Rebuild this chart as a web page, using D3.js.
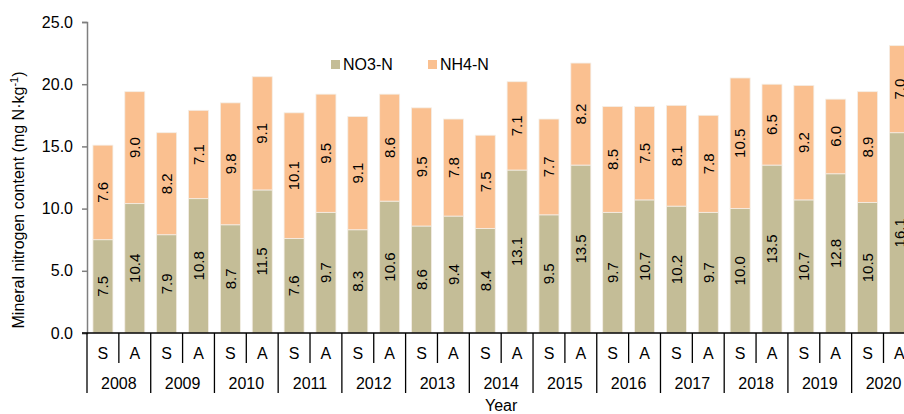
<!DOCTYPE html>
<html>
<head>
<meta charset="utf-8">
<script src="https://cdn.jsdelivr.net/npm/d3@7"></script>
<style>
  body { margin: 0; background: #fff; }
  svg { font-family: "Liberation Sans", Arial, sans-serif; }
</style>
</head>
<body>
<div id="chart"></div>
<script>
// data
var years = ["2008", "2009", "2010", "2011", "2012", "2013", "2014", "2015", "2016", "2017", "2018", "2019", "2020"];
var seasons = ["S", "A"];
var no3 = [7.5, 10.4, 7.9, 10.8, 8.7, 11.5, 7.6, 9.7, 8.3, 10.6, 8.6, 9.4, 8.4, 13.1, 9.5, 13.5, 9.7, 10.7, 10.2, 9.7, 10.0, 13.5, 10.7, 12.8, 10.5, 16.1];
var nh4 = [7.6, 9.0, 8.2, 7.1, 9.8, 9.1, 10.1, 9.5, 9.1, 8.6, 9.5, 7.8, 7.5, 7.1, 7.7, 8.2, 8.5, 7.5, 8.1, 7.8, 10.5, 6.5, 9.2, 6.0, 8.9, 7.0];
var yTicks = [0, 5, 10, 15, 20, 25];
var seriesNames = ["NO3-N", "NH4-N"];
var colors = ["#c4bd97", "#fac090"];

var width = 904, height = 414;
var margin = {top: 22, left: 87, bottom: 81};
var bandW = 31.86;

// one row per bar
var rows = [];
years.forEach(function (yr, i) {
    seasons.forEach(function (s, j) {
        var k = i * 2 + j;
        rows.push({key: yr + s, year: yr, season: s, "NO3-N": no3[k], "NH4-N": nh4[k]});
    });
});

var svg = d3.select("#chart").append("svg")
    .attr("width", width)
    .attr("height", height);

var x = d3.scaleBand()
    .domain(rows.map(function (d) { return d.key; }))
    .range([margin.left, margin.left + bandW * rows.length])
    .paddingInner(11.86 / 31.86)
    .paddingOuter(11.86 / 31.86 / 2);

var y = d3.scaleLinear()
    .domain([0, 25])
    .range([height - margin.bottom, margin.top]);

var stack = d3.stack().keys(seriesNames);
var layers = stack(rows);

var g = svg.append("g");

layers.forEach(function (layer, li) {
    var grp = g.append("g").attr("fill", colors[li]);
    grp.selectAll("rect")
        .data(layer)
        .enter().append("rect")
        .attr("x", function (d) { return x(d.data.key); })
        .attr("width", x.bandwidth())
        .attr("y", function (d) { return y(d[1]); })
        .attr("height", function (d) { return y(d[0]) - y(d[1]); })
        .attr("stroke", "#f4eee6")
        .attr("stroke-width", 0.8);

    // value labels, rotated, in the middle of each segment
    grp.selectAll("text")
        .data(layer)
        .enter().append("text")
        .attr("transform", function (d) {
            var cx = x(d.data.key) + x.bandwidth() / 2;
            var cy = y((d[0] + d[1]) / 2);
            return "translate(" + cx + "," + cy + ") rotate(-90)";
        })
        .attr("text-anchor", "middle")
        .attr("dy", "0.35em")
        .attr("fill", "#000")
        .style("font-size", "15px")
        .text(function (d) { return (d[1] - d[0]).toFixed(1); });
});

// y axis
var yAxis = svg.append("g")
    .attr("transform", "translate(" + margin.left + ",0)")
    .call(d3.axisLeft(y).tickValues(yTicks).tickSize(5).tickPadding(9)
        .tickFormat(function (d) { return d.toFixed(1); }));
yAxis.select(".domain").attr("stroke", "#7f7f7f").attr("stroke-width", 1.5);
yAxis.selectAll(".tick line").attr("stroke", "#7f7f7f").attr("stroke-width", 1.5);
yAxis.selectAll(".tick text")
    .attr("fill", "#000")
    .style("font-size", "16px")
    .style("font-family", "'Liberation Sans', Arial, sans-serif");

// x axis: baseline, season ticks, year separators
var base = y(0);
svg.append("line")
    .attr("x1", margin.left - 5).attr("x2", width)
    .attr("y1", base).attr("y2", base)
    .attr("stroke", "#000").attr("stroke-width", 1.5);

var step = x.step();
var xStart = margin.left;

rows.forEach(function (d, i) {
    var left = xStart + i * step;
    var isYearStart = (i % 2 === 0);
    svg.append("line")
        .attr("x1", left).attr("x2", left)
        .attr("y1", base).attr("y2", isYearStart ? base + 60 : base + 30)
        .attr("stroke", "#000").attr("stroke-width", 1.3);
});

svg.append("g").selectAll("text")
    .data(rows)
    .enter().append("text")
    .attr("x", function (d) { return x(d.key) + x.bandwidth() / 2; })
    .attr("y", base + 26)
    .attr("text-anchor", "middle")
    .style("font-size", "16px")
    .text(function (d) { return d.season; });

svg.append("g").selectAll("text")
    .data(years)
    .enter().append("text")
    .attr("x", function (d, i) { return xStart + (i * 2 + 1) * step; })
    .attr("y", base + 56)
    .attr("text-anchor", "middle")
    .style("font-size", "16px")
    .text(function (d) { return d; });

// axis titles
svg.append("text")
    .attr("x", xStart + 13 * step)
    .attr("y", 411)
    .attr("text-anchor", "middle")
    .style("font-size", "16px")
    .text("Year");

var yt = svg.append("text")
    .attr("transform", "translate(24,200) rotate(-90)")
    .attr("text-anchor", "middle")
    .style("font-size", "16px");
yt.append("tspan").text("Mineral nitrogen content (mg N\u00b7kg");
yt.append("tspan").attr("dy", -6).style("font-size", "11px").text("-1");
yt.append("tspan").attr("dy", 6).text(")");

// legend
var legend = svg.append("g");
var legendX = [331, 428];
seriesNames.forEach(function (name, i) {
    legend.append("rect")
        .attr("x", legendX[i]).attr("y", 60)
        .attr("width", 9).attr("height", 9)
        .attr("fill", colors[i]);
    legend.append("text")
        .attr("x", legendX[i] + 12).attr("y", 70)
        .style("font-size", "16px")
        .text(name);
});
</script>
</body>
</html>
